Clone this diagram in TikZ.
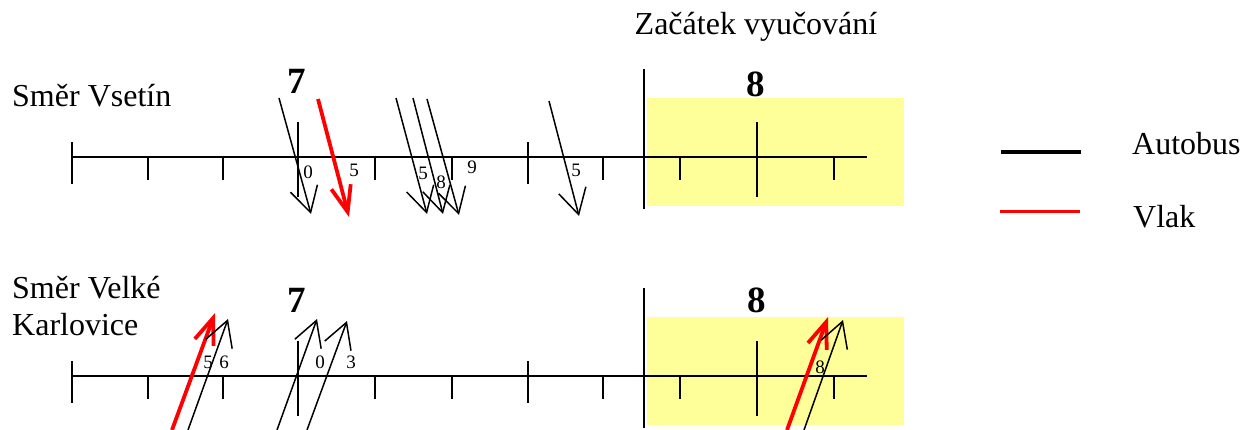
\documentclass[tikz,border=0pt]{standalone}
\usepackage{fontspec}
\setmainfont{Liberation Serif}
\usetikzlibrary{arrows.meta}
\tikzset{
  axisline/.style={line width=2pt, black},
  tickmark/.style={line width=2pt, black},
  busarrow/.style={line width=1.5pt, black, -{Straight Barb[length=25pt,width=28pt,line width=1.5pt]}},
  trainarrow/.style={line width=3.8pt, red, -{Straight Barb[length=26pt,width=20pt,line width=3.8pt]}},
  minlabel/.style={inner sep=0pt, font=\fontsize{19}{19}\selectfont},
  hourlabel/.style={inner sep=0pt, font=\fontsize{37}{37}\selectfont\bfseries},
  bigtext/.style={inner sep=0pt, anchor=base west, font=\fontsize{32}{32}\selectfont},
  schoolzone/.style={fill={rgb,255:red,255;green,255;blue,153}, draw=none}
}
\begin{document}
\begin{tikzpicture}[x=1pt,y=-1pt]
\useasboundingbox (0,0) rectangle (1241,430);
\clip (0,0) rectangle (1241,430);
% yellow zones
\fill[schoolzone] (647,98) rectangle (904,206);
\fill[schoolzone] (647,317) rectangle (904,425);
% titles
\node[bigtext, anchor=base] (title) at (756,35) {Začátek vyučování};
\node[bigtext] (dirA) at (12,107) {Směr Vsetín};
\node[bigtext] (dirB1) at (12,298) {Směr Velké};
\node[bigtext] (dirB2) at (12,335) {Karlovice};
% axes
\foreach \row/\yy in {A/157, B/376} {
  \coordinate (\row s) at (72,\yy);
  \coordinate (\row e) at (867,\yy);
  \draw[axisline] (\row s) -- (\row e);
  \foreach \xx in {148,223,374.5,451.5,603,680,834} {
    \draw[tickmark] (\xx,\yy) -- (\xx,\yy+23);
  }
  \foreach \xx in {72,527.5} {
    \draw[tickmark] (\xx,\yy-15) -- (\xx,\yy+27);
  }
  \foreach \xx in {298,757} {
    \draw[tickmark] (\xx,\yy-35) -- (\xx,\yy+40);
  }
  \draw[tickmark] (644,\yy-88) -- (644,\yy+52);
}
% hour labels
\node[hourlabel] (h7a) at (297,81) {7};
\node[hourlabel] (h8a) at (756,84) {8};
\node[hourlabel] (h7b) at (297,300) {7};
\node[hourlabel] (h8b) at (757,300) {8};
% top row arrows (towards school, downward)
\coordinate (a1s) at (279,98);  \coordinate (a1e) at (311,214);
\coordinate (r1s) at (318,99);  \coordinate (r1e) at (349,217);
\coordinate (a2s) at (396,98);  \coordinate (a2e) at (427,214);
\coordinate (a3s) at (413,98);  \coordinate (a3e) at (443,214);
\coordinate (a4s) at (427,99);  \coordinate (a4e) at (459,215);
\coordinate (a5s) at (549,101); \coordinate (a5e) at (579,216);
\draw[busarrow] (a1s) -- (a1e);
\draw[trainarrow] (r1s) -- (r1e);
\draw[busarrow] (a2s) -- (a2e);
\draw[busarrow] (a3s) -- (a3e);
\draw[busarrow] (a4s) -- (a4e);
\draw[busarrow] (a5s) -- (a5e);
\node[minlabel] (m1) at (308,172) {0};
\node[minlabel] (m2) at (354,170) {5};
\node[minlabel] (m3) at (423,173) {5};
\node[minlabel] (m4) at (441,182) {8};
\node[minlabel] (m5) at (472,167) {9};
\node[minlabel] (m6) at (576,170) {5};
% bottom row arrows (upward)
\coordinate (r2s) at (172,430); \coordinate (r2e) at (215,313);
\coordinate (b1s) at (188,430); \coordinate (b1e) at (228,319);
\coordinate (b2s) at (277,430); \coordinate (b2e) at (317,319);
\coordinate (b3s) at (307,430); \coordinate (b3e) at (347,321);
\coordinate (r3s) at (787,430); \coordinate (r3e) at (828,317);
\coordinate (b4s) at (804,430); \coordinate (b4e) at (843,320);
\draw[trainarrow] (r2s) -- (r2e);
\draw[busarrow] (b1s) -- (b1e);
\draw[busarrow] (b2s) -- (b2e);
\draw[busarrow] (b3s) -- (b3e);
\draw[trainarrow] (r3s) -- (r3e);
\draw[busarrow] (b4s) -- (b4e);
\node[minlabel] (n1) at (208,362) {5};
\node[minlabel] (n2) at (224,362) {6};
\node[minlabel] (n3) at (320,362) {0};
\node[minlabel] (n4) at (351,362) {3};
\node[minlabel] (n5) at (820,367) {8};
% legend
\coordinate (lb1) at (1001,152); \coordinate (lb2) at (1081,152);
\coordinate (lr1) at (1000,212); \coordinate (lr2) at (1080,212);
\draw[line width=3.5pt, black] (lb1) -- (lb2);
\draw[line width=3pt, red] (lr1) -- (lr2);
\node[bigtext] (legA) at (1132,155) {Autobus};
\node[bigtext] (legB) at (1133,228) {Vlak};
\end{tikzpicture}
\end{document}
